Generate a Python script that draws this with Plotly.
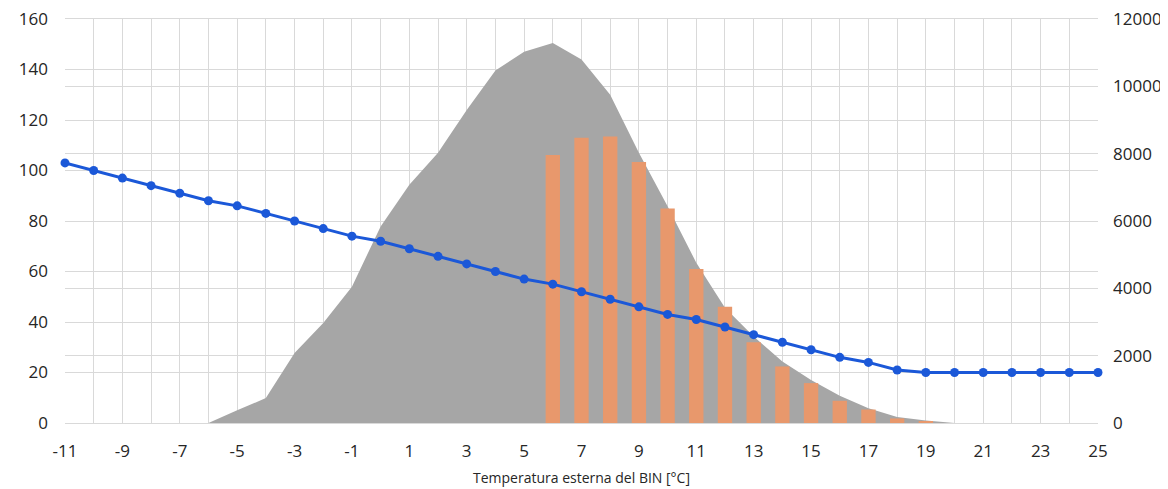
import plotly.graph_objects as go

# Temperature bins (°C)
temps = list(range(-11, 26))

# Blue line (left axis)
load_line = [103, 100, 97, 94, 91, 88, 86, 83, 80, 77, 74, 72, 69, 66, 63, 60, 57, 55,
             52, 49, 46, 43, 41, 38, 35, 32, 29, 26, 24, 21, 20, 20, 20, 20, 20, 20, 20]

# Grey area (right axis)
demand_area = [0, 0, 0, 0, 0, 0, 375, 740, 2080, 2970, 4050, 5840, 7080, 8030, 9300,
               10470, 11030, 11290, 10800, 9750, 8030, 6440, 4760, 3420, 2570, 1830,
               1280, 810, 440, 180, 75, 0, 0, 0, 0, 0, 0]

# Orange bars (right axis)
bar_temps = list(range(6, 20))
bar_values = [7960, 8470, 8510, 7750, 6370, 4575, 3450, 2400, 1680, 1185, 660, 400, 135, 45]

x_ticks = list(range(-11, 26, 2))
x_tick_labels = [str(t) for t in x_ticks]
left_ticks = list(range(0, 161, 20))
right_ticks = list(range(0, 12001, 2000))
right_tick_labels = [str(t) for t in right_ticks]

font_family = "Open Sans, DejaVu Sans, sans-serif"
text_color = "#262626"
grid_color = "#d9d9d9"

fig = go.Figure()

fig.add_trace(go.Scatter(
    x=temps, y=demand_area, mode="lines", fill="tozeroy",
    line=dict(width=0, color="#a6a6a6"), fillcolor="#a6a6a6",
    yaxis="y", showlegend=False, hoverinfo="skip"))

fig.add_trace(go.Bar(
    x=bar_temps, y=bar_values, width=0.5, marker=dict(color="#e8986c", line=dict(width=0)),
    yaxis="y2", showlegend=False))

fig.add_trace(go.Scatter(
    x=temps, y=load_line, mode="lines+markers",
    line=dict(color="#1b58d8", width=3), marker=dict(color="#1b58d8", size=9),
    yaxis="y3", showlegend=False, cliponaxis=False))

fig.update_layout(
    width=1168, height=489,
    margin=dict(l=57, r=78, t=11, b=74, autoexpand=False),
    paper_bgcolor="white", plot_bgcolor="white",
    font=dict(family=font_family, color=text_color, size=17),
    xaxis=dict(
        range=[-11, 25], tickmode="array", tickvals=x_ticks, ticktext=x_tick_labels,
        showgrid=True, gridcolor=grid_color, gridwidth=1,
        minor=dict(dtick=1, tick0=-11, showgrid=True, gridcolor=grid_color, gridwidth=1),
        zeroline=False, showline=True, linecolor=grid_color, linewidth=1, mirror=True,
        ticks="", ticklabelstandoff=13, ticklabeloverflow="allow",
        title=dict(text="Temperatura esterna del BIN [°C]", font=dict(size=14, color=text_color), standoff=11),
        automargin=False,
    ),
    yaxis=dict(
        side="right", range=[0, 12000], tickmode="array", tickvals=right_ticks,
        ticktext=right_tick_labels, ticklabeloverflow="allow",
        showgrid=True, gridcolor=grid_color, gridwidth=1,
        zeroline=False, showline=False, ticks="", ticklabelstandoff=14,
        automargin=False,
    ),
    yaxis2=dict(
        overlaying="y", side="right", range=[0, 12000], visible=False,
        showgrid=False, zeroline=False,
    ),
    yaxis3=dict(
        overlaying="y", side="left", range=[0, 160], tickvals=left_ticks,
        ticklabeloverflow="allow",
        showgrid=True, gridcolor=grid_color, gridwidth=1,
        zeroline=False, showline=False, ticks="", ticklabelstandoff=16,
        automargin=False,
    ),
)

fig.write_html("out.html")
